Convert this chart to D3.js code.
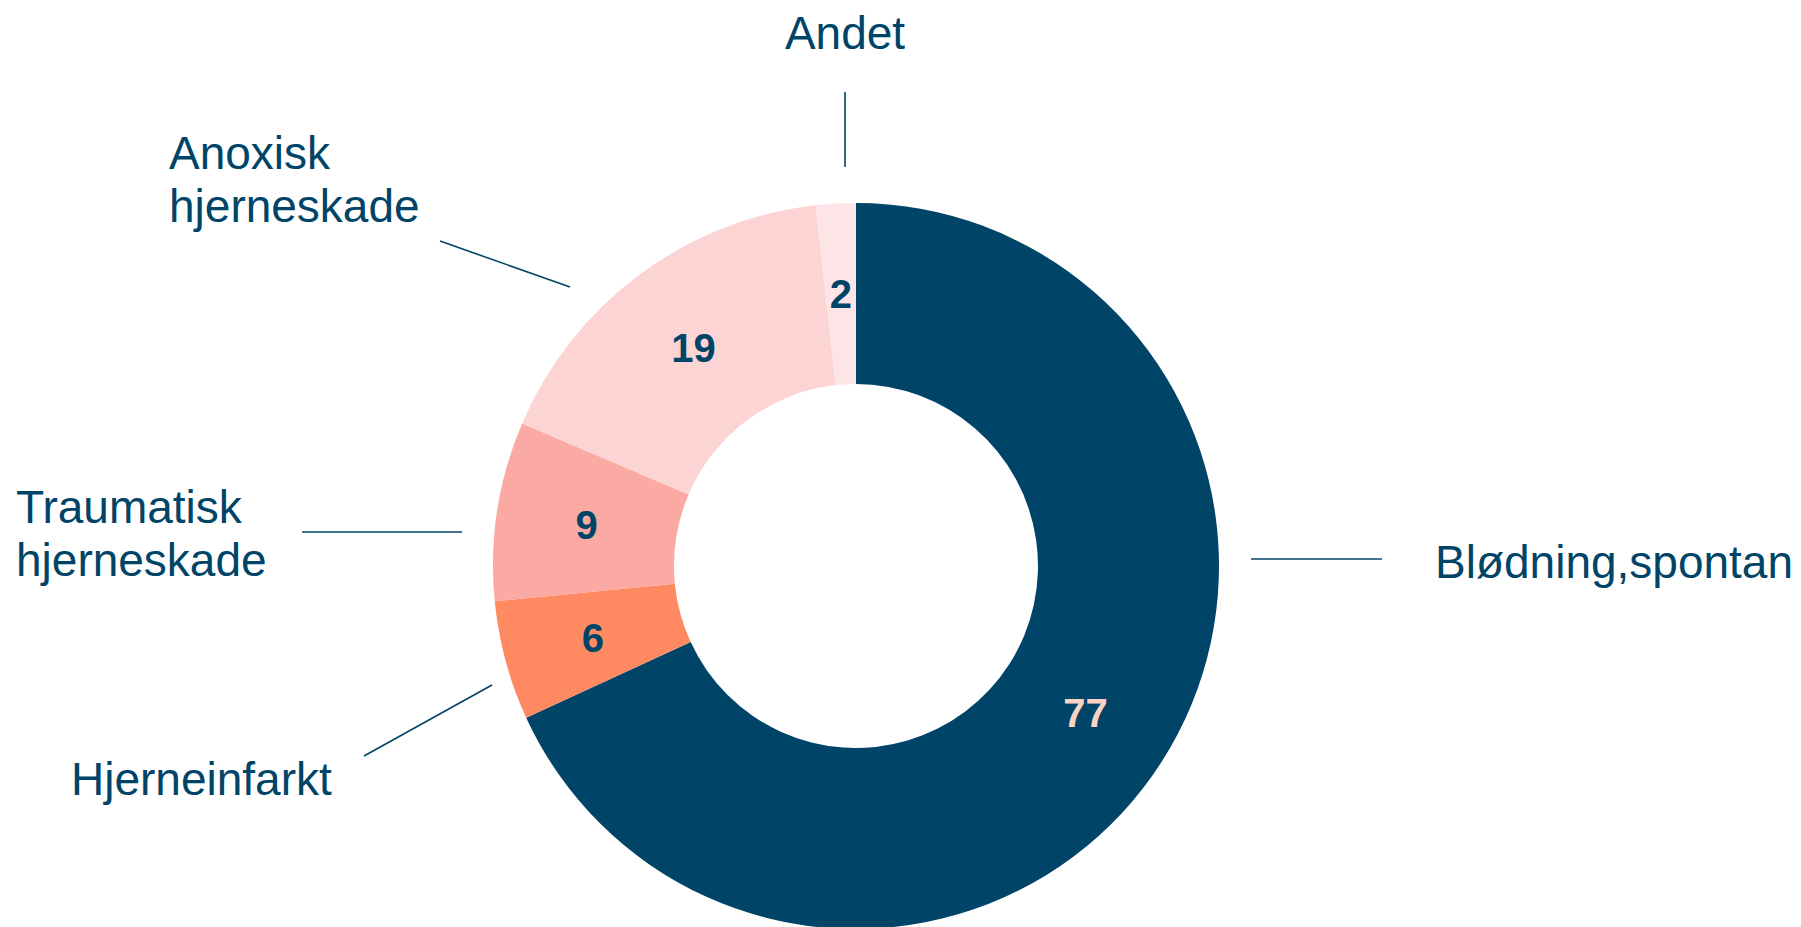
<!DOCTYPE html>
<html><head><meta charset="utf-8">
<script src="https://cdn.jsdelivr.net/npm/d3@7"></script>
<style>
html,body{margin:0;padding:0;background:#fff;}
svg{display:block;}
</style></head>
<body>
<script>
// ---- data ----
const categories = ["Blødning,spontan", "Hjerneinfarkt", "Traumatisk hjerneskade", "Anoxisk hjerneskade", "Andet"];
const values = [77, 6, 9, 19, 2];
const labelLines = [["Blødning,spontan"], ["Hjerneinfarkt"], ["Traumatisk", "hjerneskade"], ["Anoxisk", "hjerneskade"], ["Andet"]];

// ---- styles / layout ----
const colors = ["#004467", "#FF8A61", "#FAA9A3", "#FCD4D3", "#FDE4E7"];
const valueColors = ["#FAD3C4", "#004467", "#004467", "#004467", "#004467"];
const textColor = "#004467";
const W = 1801, H = 927;
const cx = 856, cy = 566, outerR = 363, innerR = 182;
// annotation placement relative to donut centre (manual, as in the reference)
const annot = [
  {line: [[395, -7], [526, -7]], text: [579, 12], anchor: "start"},
  {line: [[-364, 119], [-492, 190]], text: [-785, 229], anchor: "start"},
  {line: [[-394, -34], [-554, -34]], text: [-840, -43], anchor: "start"},
  {line: [[-286, -279], [-416, -325]], text: [-687, -397], anchor: "start"},
  {line: [[-11, -399], [-11, -474]], text: [-11, -517], anchor: "middle"}
];
const lineHeight = 53;

const svg = d3.select("body").append("svg").attr("width", W).attr("height", H);
const g = svg.append("g").attr("transform", `translate(${cx},${cy})`);

const pie = d3.pie().sort(null).value(d => d)(values);
const arc = d3.arc().innerRadius(innerR).outerRadius(outerR);
const midArc = d3.arc().innerRadius((innerR + outerR) / 2).outerRadius((innerR + outerR) / 2);

g.selectAll("path.slice").data(pie).join("path")
  .attr("class", "slice")
  .attr("d", arc)
  .attr("fill", (d, i) => colors[i]);

g.selectAll("text.val").data(pie).join("text")
  .attr("class", "val")
  .attr("transform", d => `translate(${midArc.centroid(d)})`)
  .attr("text-anchor", "middle")
  .attr("dy", "0.36em")
  .attr("font-family", "Liberation Sans, Arial, sans-serif")
  .attr("font-weight", "bold")
  .attr("font-size", 40)
  .attr("fill", (d, i) => valueColors[i])
  .text(d => d.data);

g.selectAll("line.lead").data(annot).join("line")
  .attr("class", "lead")
  .attr("x1", d => d.line[0][0]).attr("y1", d => d.line[0][1])
  .attr("x2", d => d.line[1][0]).attr("y2", d => d.line[1][1])
  .attr("stroke", textColor).attr("stroke-width", 1.6);

const lbl = g.selectAll("text.lbl").data(annot).join("text")
  .attr("class", "lbl")
  .attr("x", d => d.text[0]).attr("y", d => d.text[1])
  .attr("text-anchor", d => d.anchor)
  .attr("font-family", "Liberation Sans, Arial, sans-serif")
  .attr("font-size", 46)
  .attr("fill", textColor);
lbl.each(function(d, i) {
  d3.select(this).selectAll("tspan").data(labelLines[i]).join("tspan")
    .attr("x", d.text[0])
    .attr("dy", (t, j) => j === 0 ? 0 : lineHeight)
    .text(t => t);
});
</script>
</body></html>
